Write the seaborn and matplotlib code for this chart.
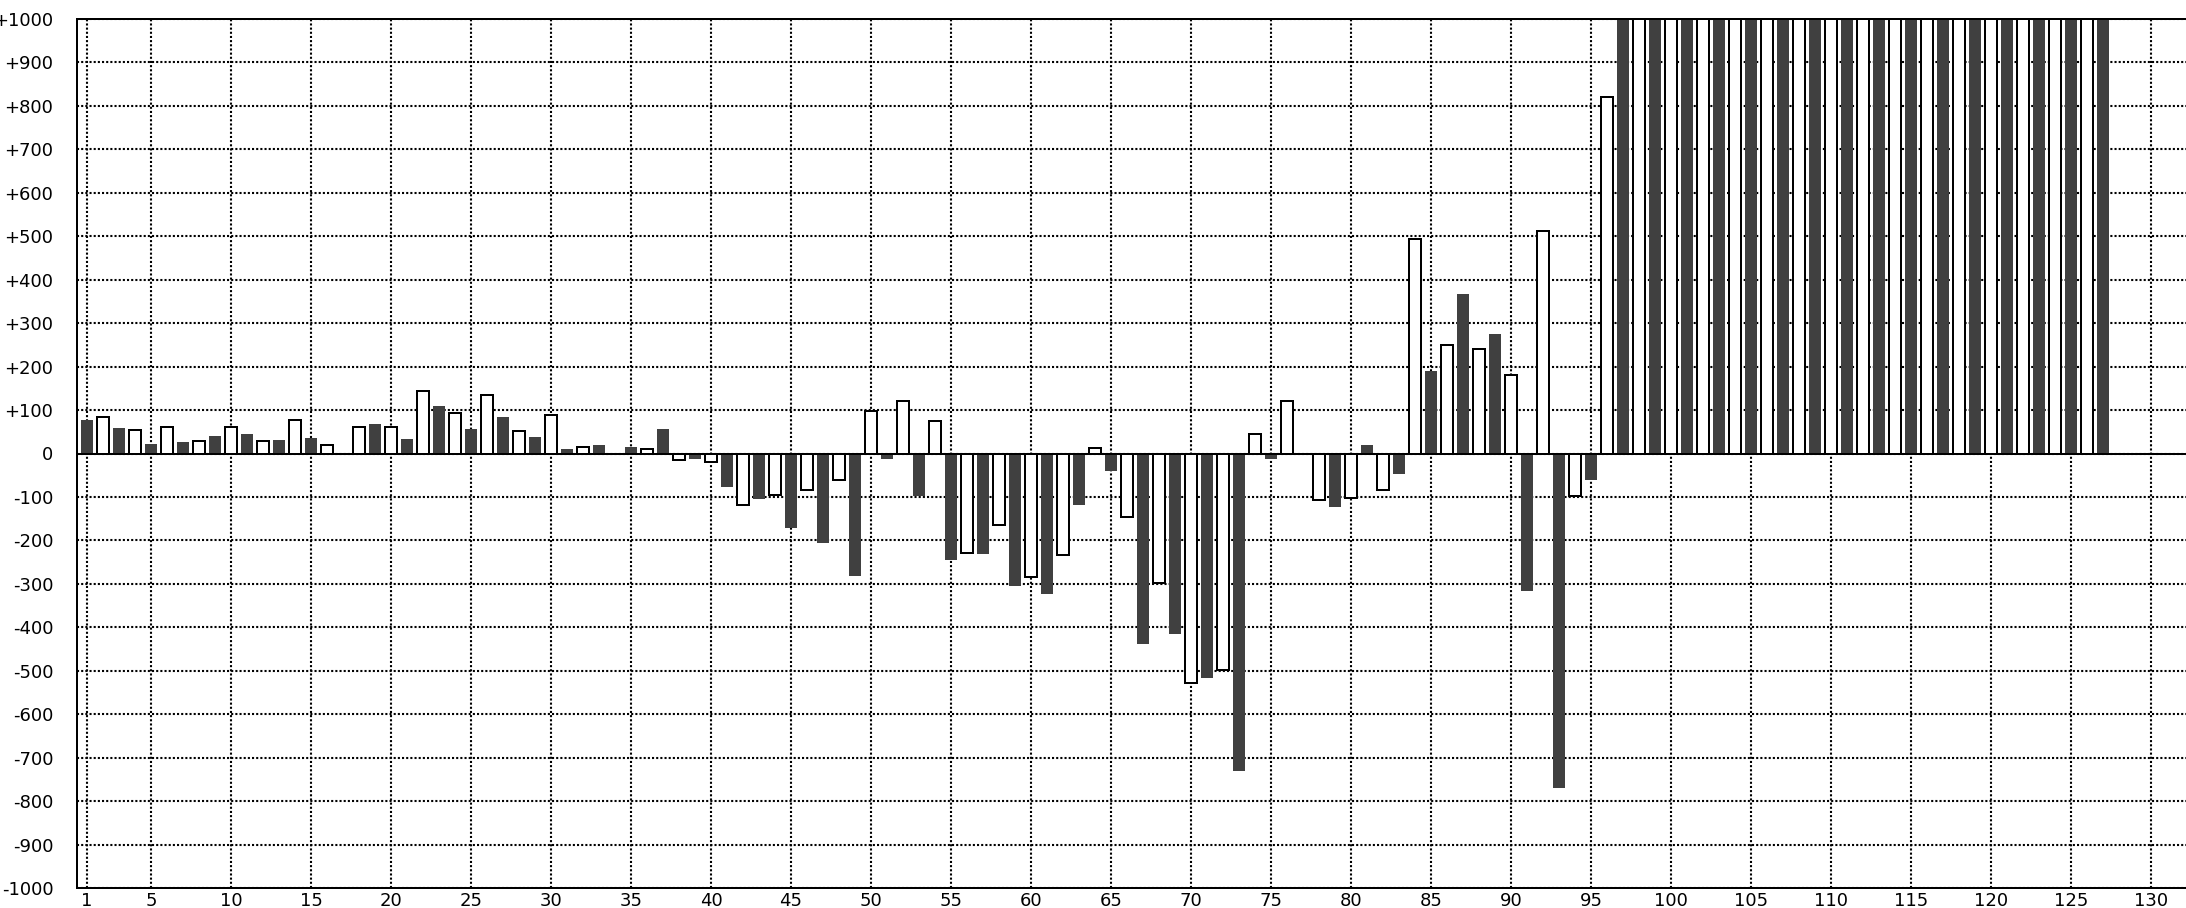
import numpy as np
import pandas as pd
import matplotlib
matplotlib.use("Agg")
import matplotlib.pyplot as plt
import seaborn as sns

# bar values (x = 1..127); bars 97+ run past the top of the axis
values = [
    77, 85, 58, 53, 21, 61, 26, 29, 40, 61,
    44, 29, 30, 76, 35, 20, 0, 61, 68, 61,
    34, 144, 109, 94, 57, 135, 85, 52, 39, 88,
    11, 14, 20, 0, 15, 10, 57, -15, -12, -20,
    -78, -118, -105, -95, -171, -85, -207, -62, -282, 97,
    -12, 120, -97, 74, -245, -229, -231, -165, -304, -284,
    -323, -234, -119, 13, -40, -147, -438, -299, -415, -529,
    -516, -498, -730, 46, -12, 120, 0, -107, -122, -102,
    20, -84, -48, 493, 190, 249, 366, 240, 274, 180,
    -316, 512, -771, -98, -62, 821, 1000, 1000, 1000, 1000,
    1000, 1000, 1000, 1000, 1000, 1000, 1000, 1000, 1000, 1000,
    1000, 1000, 1000, 1000, 1000, 1000, 1000, 1000, 1000, 1000,
    1000, 1000, 1000, 1000, 1000, 1000, 1000,
]
positions = list(range(1, len(values) + 1))
kinds = ["dark" if p % 2 == 1 else "light" for p in positions]

x_ticks = [1] + list(range(5, 131, 5))
y_ticks = list(range(-1000, 1001, 100))
y_labels = [("+" if v > 0 else "") + str(v) for v in y_ticks]

df = pd.DataFrame({"x": positions, "value": values, "kind": kinds})

sns.set_style("white")
plt.rcParams["font.family"] = ["DejaVu Sans"]

W, H = 2186, 908
fig = plt.figure(figsize=(W / 100, H / 100), dpi=100)
# axes: left spine at x=77px, top at y=19px, bottom at y=888px, right edge past the image
ax = fig.add_axes([77 / W, (H - 888) / H, (2192 - 77) / W, (888 - 19) / H])

sns.barplot(data=df, x="x", y="value", hue="kind",
            palette={"dark": "#404040", "light": "white"},
            native_scale=True, width=0.75, dodge=False, saturation=1,
            legend=False, ax=ax)

for p in ax.patches:
    fc = p.get_facecolor()
    if fc[0] > 0.9:
        p.set_edgecolor("black")
        p.set_linewidth(1.44)
    else:
        p.set_edgecolor("none")
        p.set_linewidth(0)

ax.axhline(0, color="black", lw=1.44, zorder=5)

ax.set_xlim(1 - 10 / 16, 1 + (2192 - 87) / 16)
ax.set_ylim(-1000, 1000)
ax.set_xticks(x_ticks)
ax.set_xticklabels([str(t) for t in x_ticks])
ax.set_yticks(y_ticks)
ax.set_yticklabels(y_labels)
ax.set_xlabel("")
ax.set_ylabel("")

ax.set_axisbelow(True)
ax.grid(True, color="black", lw=1.5, linestyle=(0, (1, 1)))
ax.tick_params(axis="both", length=0, labelsize=13, colors="black")
ax.tick_params(axis="y", pad=17)
ax.tick_params(axis="x", pad=3)

for side in ["left", "top", "bottom"]:
    ax.spines[side].set_visible(True)
    ax.spines[side].set_color("black")
    ax.spines[side].set_linewidth(1.44)
ax.spines["right"].set_visible(False)

fig.savefig("out.png", dpi=100)
